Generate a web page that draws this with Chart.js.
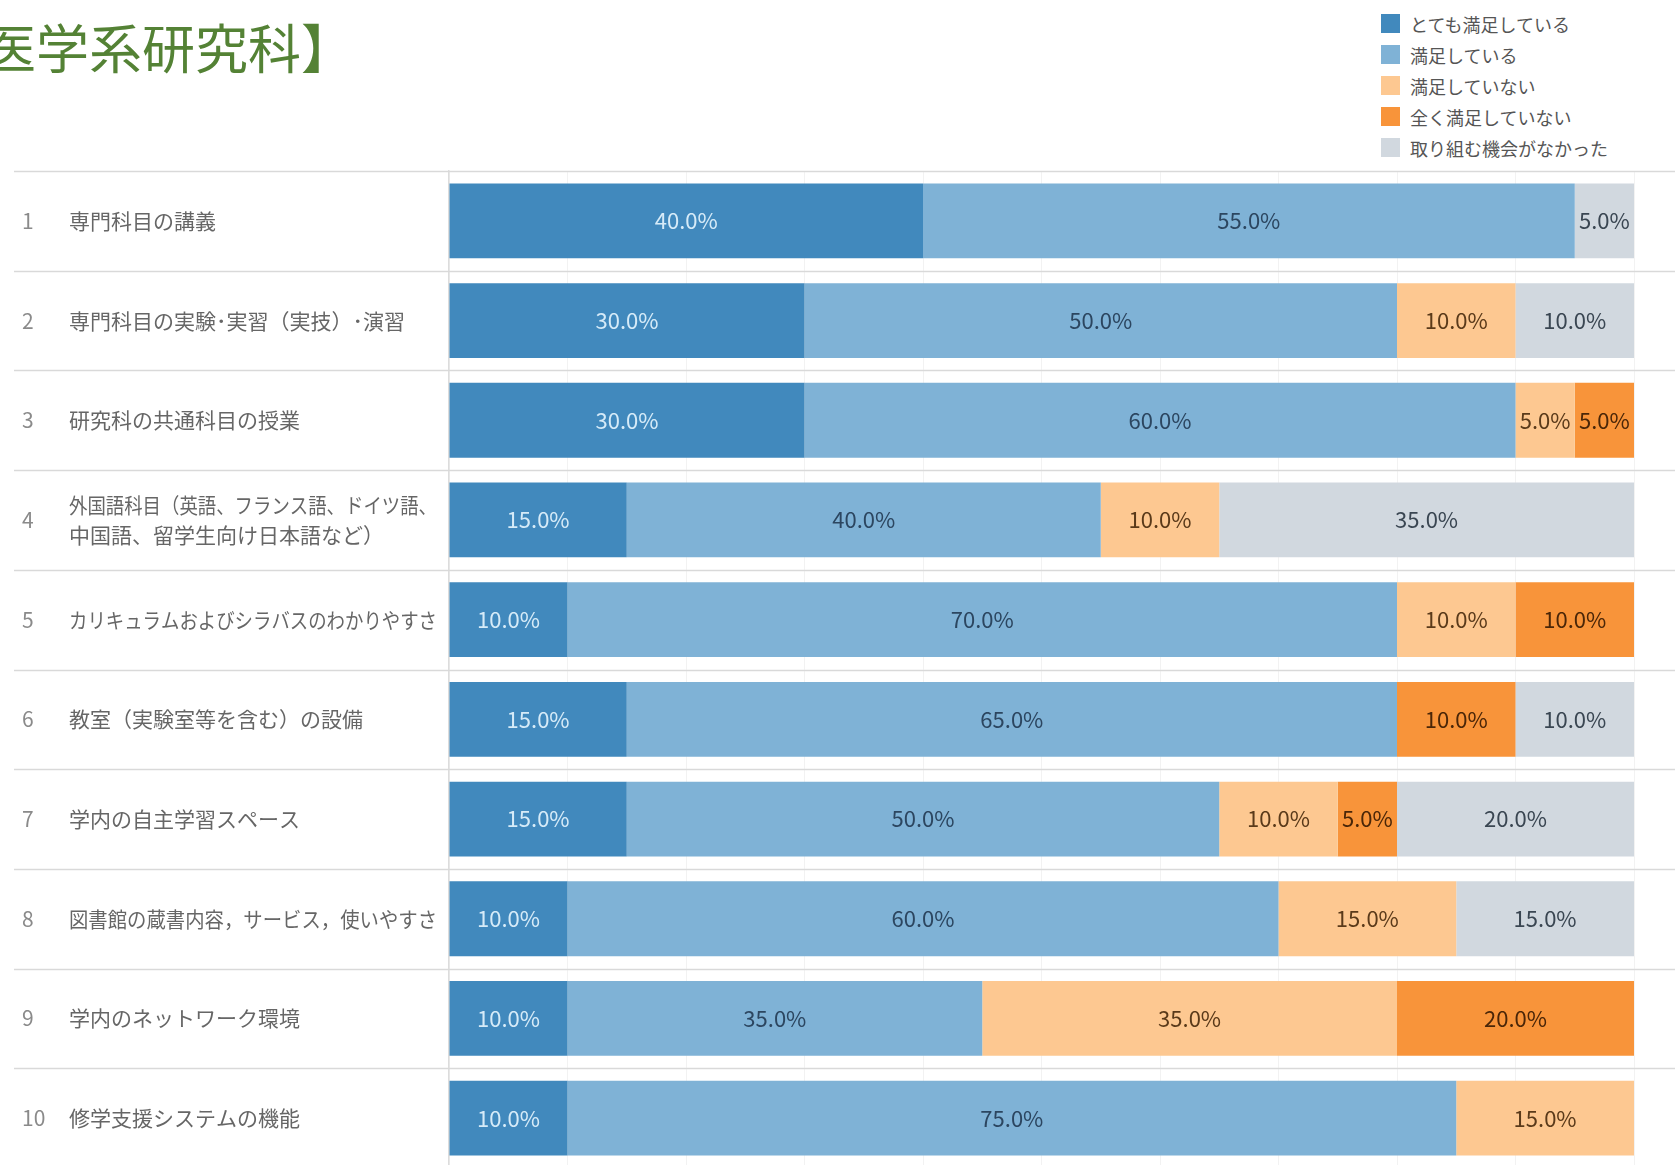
<!DOCTYPE html>
<html lang="ja">
<head>
<meta charset="UTF-8">
<title>医学系研究科 満足度</title>
<script src="https://cdn.jsdelivr.net/npm/chart.js"></script>
<style>
  body { margin: 0; width: 1675px; height: 1165px; overflow: hidden; background: #fff;
         font-family: "Noto Sans CJK JP", "Noto Sans", sans-serif; position: relative; }
  #title { position: absolute; left: -17px; top: 20px; font-size: 53px; color: #548235;
           line-height: 1; white-space: nowrap; }
  #legend { position: absolute; left: 1381px; top: 8px; }
  .leg-item { height: 31px; display: flex; align-items: center; font-size: 18px; color: #555; }
  .leg-box { width: 19px; height: 19px; margin-right: 10px; }
  canvas { position: absolute; left: 0; top: 0; }
</style>
</head>
<body>
<div id="title">医学系研究科】</div>
<div id="legend"></div>
<canvas id="chart" width="1675" height="1175"></canvas>
<script>
const categories = [
  ['専門科目の講義'],
  ['専門科目の実験･実習（実技）･演習'],
  ['研究科の共通科目の授業'],
  ['外国語科目（英語、フランス語、ドイツ語、', '中国語、留学生向け日本語など）'],
  ['カリキュラムおよびシラバスのわかりやすさ'],
  ['教室（実験室等を含む）の設備'],
  ['学内の自主学習スペース'],
  ['図書館の蔵書内容，サービス，使いやすさ'],
  ['学内のネットワーク環境'],
  ['修学支援システムの機能']
];
const seriesNames = ['とても満足している', '満足している', '満足していない', '全く満足していない', '取り組む機会がなかった'];
const verySatisfied   = [40, 30, 30, 15, 10, 15, 15, 10, 10, 10];
const satisfied       = [55, 50, 60, 40, 70, 65, 50, 60, 35, 75];
const notSatisfied    = [0, 10, 5, 10, 10, 0, 10, 15, 35, 15];
const notAtAll        = [0, 0, 5, 0, 10, 10, 5, 0, 20, 0];
const noOpportunity   = [5, 10, 0, 35, 0, 10, 20, 15, 0, 0];

const colors     = ['#4189bd', '#7fb2d6', '#fdc891', '#f8943a', '#d1d8df'];
const textColors = ['#d6ebf8', '#2c4660', '#5a3a1a', '#4a2608', '#3a4652'];
const seriesData = [verySatisfied, satisfied, notSatisfied, notAtAll, noOpportunity];

// legend
const legend = document.getElementById('legend');
seriesNames.forEach((name, i) => {
  const item = document.createElement('div');
  item.className = 'leg-item';
  item.innerHTML = '<div class="leg-box" style="background:' + colors[i] + '"></div>' + name;
  legend.appendChild(item);
});

const FONT = '"Noto Sans CJK JP", "Noto Sans", sans-serif';

const rowsPlugin = {
  id: 'rows',
  beforeDatasetsDraw(chart) {
    const ctx = chart.ctx, y = chart.scales.y;
    const step = y.getPixelForValue(1) - y.getPixelForValue(0);
    ctx.save();
    ctx.strokeStyle = '#d9d9d9';
    ctx.lineWidth = 1.5;
    for (let i = 0; i <= categories.length; i++) {
      const py = Math.round(y.getPixelForValue(i) - step / 2) + 0.5;
      ctx.beginPath();
      ctx.moveTo(14, py);
      ctx.lineTo(1675, py);
      ctx.stroke();
    }
    ctx.restore();
  },
  afterDatasetsDraw(chart) {
    const ctx = chart.ctx, y = chart.scales.y;
    ctx.save();
    // category labels
    ctx.textBaseline = 'middle';
    ctx.font = '21px ' + FONT;
    categories.forEach((lines, i) => {
      const cy = y.getPixelForValue(i);
      ctx.fillStyle = '#8a8a8a';
      ctx.textAlign = 'left';
      ctx.fillText(String(i + 1), 22, cy);
      ctx.fillStyle = '#666';
      const lh = 30;
      lines.forEach((t, k) => {
        ctx.fillText(t, 69, cy + (k - (lines.length - 1) / 2) * lh, 368);
      });
    });
    // value labels
    ctx.font = '22px ' + FONT;
    ctx.textAlign = 'center';
    chart.data.datasets.forEach((ds, di) => {
      const meta = chart.getDatasetMeta(di);
      meta.data.forEach((el, j) => {
        const v = ds.data[j];
        if (!v) return;
        ctx.fillStyle = textColors[di];
        ctx.fillText(v.toFixed(1) + '%', (el.x + el.base) / 2, el.y);
      });
    });
    ctx.restore();
  }
};

new Chart(document.getElementById('chart'), {
  type: 'bar',
  data: {
    labels: categories.map(c => c.join('')),
    datasets: seriesNames.map((name, i) => ({
      label: name,
      data: seriesData[i],
      backgroundColor: colors[i],
      borderWidth: 0,
      barPercentage: 0.75,
      categoryPercentage: 1
    }))
  },
  options: {
    indexAxis: 'y',
    responsive: false,
    animation: false,
    devicePixelRatio: 1,
    layout: { padding: { left: 449, right: 41, top: 171, bottom: 7 } },
    plugins: { legend: { display: false }, tooltip: { enabled: false }, title: { display: false } },
    scales: {
      x: {
        stacked: true, min: 0, max: 100,
        ticks: { display: false, stepSize: 10 },
        grid: { color: 'rgba(0,0,0,0.05)', drawTicks: false },
        border: { display: false }
      },
      y: {
        stacked: true,
        ticks: { display: false },
        grid: { display: false, drawTicks: false },
        border: { display: true, color: '#dcdcdc', width: 1.5 }
      }
    }
  },
  plugins: [rowsPlugin]
});
</script>
</body>
</html>
